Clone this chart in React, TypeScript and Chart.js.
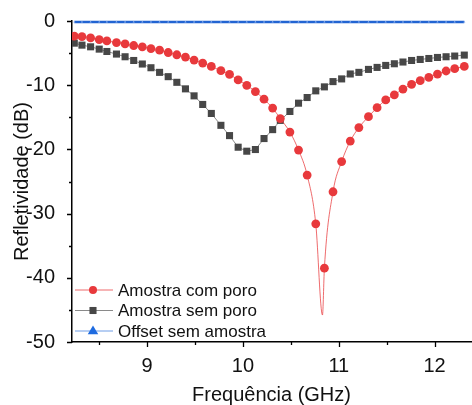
import React, { useEffect, useRef } from 'react';
import { Chart, registerables } from 'chart.js';

Chart.register(...registerables);

// Frequencies (GHz) of the marked points
const freq = [
  8.24, 8.32, 8.41, 8.5, 8.58, 8.68, 8.77, 8.86, 8.95,
  9.04, 9.13, 9.22, 9.31, 9.4, 9.49, 9.58, 9.67, 9.77, 9.86,
  9.95, 10.04, 10.13, 10.22, 10.31, 10.39, 10.49, 10.58, 10.67, 10.76,
  10.85, 10.94, 11.03, 11.12, 11.21, 11.31, 11.4, 11.49, 11.58, 11.67,
  11.76, 11.85, 11.94, 12.03, 12.12, 12.21, 12.31,
];

// "Amostra com poro" has an extra (unmarked) resonance point at 10.83 GHz
const freqComPoro = [
  8.24, 8.32, 8.41, 8.5, 8.58, 8.68, 8.77, 8.86, 8.95,
  9.04, 9.13, 9.22, 9.31, 9.4, 9.49, 9.58, 9.67, 9.77, 9.86,
  9.95, 10.04, 10.13, 10.22, 10.31, 10.39, 10.49, 10.58, 10.67, 10.76,
  10.83,
  10.85, 10.94, 11.03, 11.12, 11.21, 11.31, 11.4, 11.49, 11.58, 11.67,
  11.76, 11.85, 11.94, 12.03, 12.12, 12.21, 12.31,
];

const comPoro = [
  -2.37, -2.43, -2.63, -2.89, -3.1, -3.36, -3.56, -3.82, -4.02,
  -4.29, -4.54, -4.91, -5.26, -5.62, -6.08, -6.55, -7.07, -7.74, -8.31,
  -9.18, -10.02, -10.99, -12.18, -13.57, -15.2, -17.3, -20.1, -24.0, -31.6,
  -45.8,
  -38.5, -26.6, -21.9, -18.7, -16.6, -14.9, -13.5, -12.3, -11.5, -10.6,
  -9.86, -9.29, -8.77, -8.26, -7.79, -7.43, -7.07,
];

const semPoro = [
  -3.45, -3.76, -4.02, -4.38, -4.75, -5.15, -5.57, -6.15, -6.7,
  -7.28, -8.0, -8.67, -9.55, -10.57, -11.66, -13.0, -14.4, -16.25, -17.85,
  -19.66, -20.28, -20.02, -18.31, -16.92, -15.48, -14.09, -12.8, -11.92, -10.88,
  -10.26, -9.44, -9.02, -8.25, -8.0, -7.54, -7.23, -6.92, -6.66, -6.39,
  -6.15, -5.99, -5.84, -5.68, -5.57, -5.46, -5.31,
];

const offsetSemAmostra = [
  -0.15, -0.15, -0.15, -0.15, -0.15, -0.15, -0.15, -0.15, -0.15,
  -0.15, -0.15, -0.15, -0.15, -0.15, -0.15, -0.15, -0.15, -0.15, -0.15,
  -0.15, -0.15, -0.15, -0.15, -0.15, -0.15, -0.15, -0.15, -0.15, -0.15,
  -0.15, -0.15, -0.15, -0.15, -0.15, -0.15, -0.15, -0.15, -0.15, -0.15,
  -0.15, -0.15, -0.15, -0.15, -0.15, -0.15, -0.15,
];

const seriesLabels = ['Amostra com poro', 'Amostra sem poro', 'Offset sem amostra'];

const xMajorTicks = [9, 10, 11, 12];
const xMinorTicks = [8.5, 9.5, 10.5, 11.5];
const yMajorTicks = [0, -10, -20, -30, -40, -50];
const yMinorTicks = [-5, -15, -25, -35, -45];

const RED = '#e8393c';
const GRAY = '#474747';
const BLUE = '#2264d2';
const FONT = '"Liberation Sans", Arial, sans-serif';

function drawMarker(ctx: CanvasRenderingContext2D, style: string, x: number, y: number, r: number, color: string) {
  ctx.fillStyle = color;
  ctx.beginPath();
  if (style === 'circle') {
    ctx.arc(x, y, r, 0, Math.PI * 2);
  } else if (style === 'rect') {
    const s = r * Math.SQRT1_2;
    ctx.rect(x - s, y - s, 2 * s, 2 * s);
  } else {
    ctx.moveTo(x, y - r);
    ctx.lineTo(x + r * 0.95, y + r * 0.6);
    ctx.lineTo(x - r * 0.95, y + r * 0.6);
    ctx.closePath();
  }
  ctx.fill();
}

const decorPlugin = {
  id: 'decor',
  afterDraw(chart: any) {
    const { ctx, chartArea, scales } = chart;
    ctx.save();
    ctx.strokeStyle = '#000';
    ctx.lineWidth = 1.3;
    ctx.beginPath();
    for (const v of [...yMajorTicks, ...yMinorTicks]) {
      const py = Math.round(scales.y.getPixelForValue(v)) + 0.5;
      const len = yMajorTicks.includes(v) ? 5 : 3;
      ctx.moveTo(chartArea.left - len, py);
      ctx.lineTo(chartArea.left, py);
    }
    for (const v of [...xMajorTicks, ...xMinorTicks]) {
      const px = Math.round(scales.x.getPixelForValue(v)) + 0.5;
      const len = xMajorTicks.includes(v) ? 5 : 3;
      ctx.moveTo(px, chartArea.bottom);
      ctx.lineTo(px, chartArea.bottom + len);
    }
    ctx.stroke();

    // legend
    const rows = [-52, -31.5, -11];
    chart.data.datasets.forEach((ds: any, i: number) => {
      const y = chartArea.bottom + rows[i];
      const x0 = chartArea.left + 3;
      ctx.strokeStyle = ds.legendLine;
      ctx.lineWidth = 1;
      ctx.beginPath();
      ctx.moveTo(x0, y);
      ctx.lineTo(x0 + 38, y);
      ctx.stroke();
      drawMarker(ctx, ds.pointStyle, x0 + 18, y, ds.legendRadius, ds.legendColor);
      ctx.fillStyle = '#111';
      ctx.font = `17px ${FONT}`;
      ctx.textBaseline = 'middle';
      ctx.textAlign = 'left';
      ctx.fillText(ds.label, x0 + 43, y + 1);
    });
    ctx.restore();
  },
};

export default function App() {
  const ref = useRef<HTMLCanvasElement | null>(null);

  useEffect(() => {
    if (!ref.current) return;
    const dipIndex = comPoro.indexOf(Math.min(...comPoro));
    const chart = new Chart(ref.current, {
      type: 'line',
      data: {
        datasets: [
          {
            label: seriesLabels[0],
            data: freqComPoro.map((x, i) => ({ x, y: comPoro[i] })),
            borderColor: 'rgba(232,57,60,0.75)',
            borderWidth: 1,
            pointStyle: 'circle',
            pointRadius: (c: any) => (c.dataIndex === dipIndex ? 0 : 4.4),
            pointBackgroundColor: RED,
            pointBorderWidth: 0,
            cubicInterpolationMode: 'monotone',
            legendLine: 'rgba(232,57,60,0.75)',
            legendColor: RED,
            legendRadius: 4,
          } as any,
          {
            label: seriesLabels[1],
            data: freq.map((x, i) => ({ x, y: semPoro[i] })),
            borderColor: '#8a8a8a',
            borderWidth: 1,
            pointStyle: 'rect',
            pointRadius: 5,
            pointBackgroundColor: GRAY,
            pointBorderWidth: 0,
            legendLine: '#8a8a8a',
            legendColor: GRAY,
            legendRadius: 5,
          } as any,
          {
            label: seriesLabels[2],
            data: freq.map((x, i) => ({ x, y: offsetSemAmostra[i] })),
            borderColor: BLUE,
            borderWidth: 2.6,
            pointStyle: 'triangle',
            pointRadius: 1.3,
            pointBackgroundColor: '#8fb3ee',
            pointBorderWidth: 0,
            clip: false,
            legendLine: '#6e9de6',
            legendColor: '#1e6be0',
            legendRadius: 5.5,
          } as any,
        ],
      },
      options: {
        animation: false,
        responsive: false,
        maintainAspectRatio: false,
        layout: { padding: { top: 19, left: 0, right: 0, bottom: 0 } },
        plugins: { legend: { display: false }, tooltip: { enabled: false } },
        scales: {
          x: {
            type: 'linear',
            min: 8.216,
            max: 12.38,
            afterBuildTicks: (s: any) => {
              s.ticks = xMajorTicks.map((v) => ({ value: v }));
            },
            afterFit: (s: any) => {
              s.height = 63;
            },
            grid: { display: false },
            border: { display: true, color: '#000', width: 1.5 },
            ticks: {
              color: '#111',
              font: { family: FONT, size: 20 },
              padding: 4,
              maxRotation: 0,
              autoSkip: false,
            },
            title: {
              display: true,
              text: 'Frequência (GHz)',
              color: '#111',
              font: { family: FONT, size: 20, lineHeight: 1 },
              padding: { top: 0, bottom: 0 },
            },
          },
          y: {
            type: 'linear',
            min: -50,
            max: 0,
            afterBuildTicks: (s: any) => {
              s.ticks = yMajorTicks.map((v) => ({ value: v }));
            },
            afterFit: (s: any) => {
              s.width = 72;
            },
            grid: { display: false },
            border: { display: true, color: '#000', width: 1.5 },
            ticks: {
              color: '#111',
              font: { family: FONT, size: 20 },
              padding: 9,
              autoSkip: false,
            },
            title: {
              display: true,
              text: 'Refletividade (dB)',
              color: '#111',
              font: { family: FONT, size: 20, lineHeight: 1.2 },
              padding: { top: 10, bottom: 0 },
            },
          },
        },
      },
      plugins: [decorPlugin],
    } as any);
    return () => chart.destroy();
  }, []);

  return (
    <div style={{ position: 'fixed', left: 0, top: 0, width: 472, height: 405, overflow: 'hidden', background: '#fff' }}>
      <canvas ref={ref} width={476} height={405} style={{ width: 476, height: 405, display: 'block' }} />
    </div>
  );
}
